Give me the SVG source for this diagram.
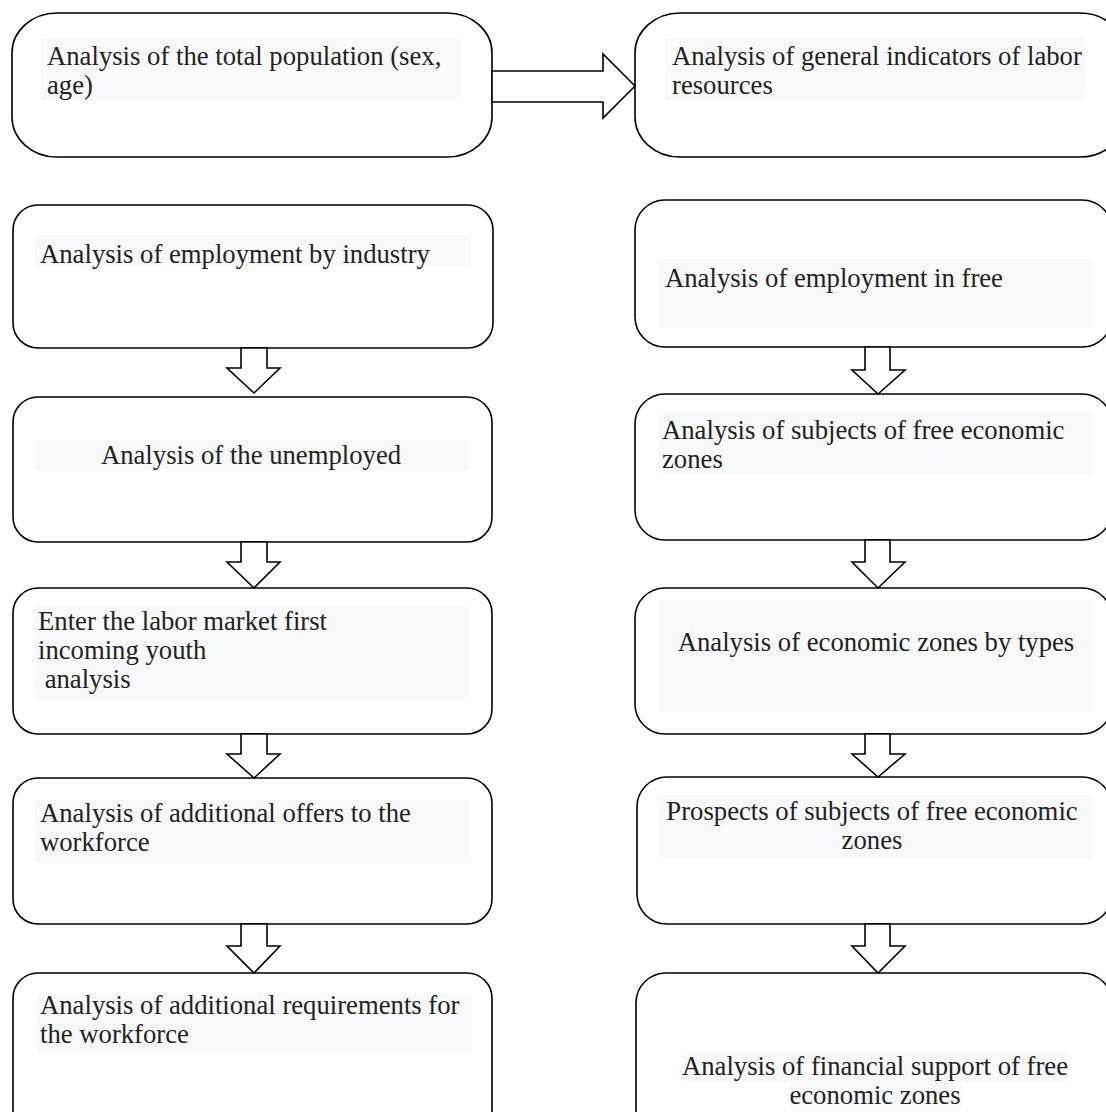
<svg xmlns="http://www.w3.org/2000/svg" width="1106" height="1112" viewBox="0 0 1106 1112">
<style>
.box{fill:#fff;stroke:#000;stroke-width:1.6}
.hl{fill:#f8f9fa}
.t{font-family:"Liberation Serif","Times New Roman",serif;font-size:26.7px;fill:#222}
.c{text-anchor:middle}
.arr{fill:#fff;stroke:#000;stroke-width:1.6;stroke-linejoin:miter}
</style>
<rect width="1106" height="1112" fill="#fff"/>
<g id="n1">
<rect class="box" x="12" y="13" width="480" height="144" rx="45" ry="40"/>
<rect class="hl" x="41" y="38" width="421" height="62"/>
<text class="t" x="47" y="65">Analysis of the total population (sex,</text>
<text class="t" x="47" y="94">age)</text>
</g>
<g id="n2">
<rect class="box" x="635" y="13" width="490" height="144" rx="45" ry="40"/>
<rect class="hl" x="665" y="38" width="420" height="62"/>
<text class="t" x="672" y="65">Analysis of general indicators of labor</text>
<text class="t" x="672" y="94">resources</text>
</g>
<g id="l1">
<rect class="box" x="13" y="205" width="480" height="143" rx="25" ry="25"/>
<rect class="hl" x="35" y="235" width="436" height="32"/>
<text class="t" x="40" y="263">Analysis of employment by industry</text>
</g>
<g id="l2">
<rect class="box" x="13" y="397" width="479" height="145" rx="25" ry="25"/>
<rect class="hl" x="35" y="440" width="434" height="30"/>
<text class="t c" x="251" y="464">Analysis of the unemployed</text>
</g>
<g id="l3">
<rect class="box" x="13" y="588" width="479" height="146" rx="25" ry="25"/>
<rect class="hl" x="35" y="605" width="435" height="95"/>
<text class="t" x="38" y="630">Enter the labor market first</text>
<text class="t" x="38" y="659">incoming youth</text>
<text class="t" x="38" y="688" xml:space="preserve"> analysis</text>
</g>
<g id="l4">
<rect class="box" x="13" y="778" width="479" height="146" rx="25" ry="25"/>
<rect class="hl" x="35" y="800" width="435" height="62"/>
<text class="t" x="40" y="822">Analysis of additional offers to the</text>
<text class="t" x="40" y="851">workforce</text>
</g>
<g id="l5">
<rect class="box" x="13" y="973" width="479" height="170" rx="25" ry="25"/>
<rect class="hl" x="37" y="993" width="435" height="62"/>
<text class="t" x="40" y="1014">Analysis of additional requirements for</text>
<text class="t" x="40" y="1043">the workforce</text>
</g>
<g id="r1">
<rect class="box" x="635" y="200" width="477" height="147" rx="30" ry="30"/>
<rect class="hl" x="658" y="259" width="435" height="69"/>
<text class="t" x="665" y="287">Analysis of employment in free</text>
</g>
<g id="r2">
<rect class="box" x="635" y="394" width="477" height="146" rx="30" ry="30"/>
<rect class="hl" x="658" y="412" width="435" height="63"/>
<text class="t" x="662" y="439">Analysis of subjects of free economic</text>
<text class="t" x="662" y="468">zones</text>
</g>
<g id="r3">
<rect class="box" x="635" y="588" width="477" height="146" rx="30" ry="30"/>
<rect class="hl" x="658" y="600" width="435" height="112"/>
<text class="t c" x="876" y="651">Analysis of economic zones by types</text>
</g>
<g id="r4">
<rect class="box" x="637" y="777" width="475" height="147" rx="30" ry="30"/>
<rect class="hl" x="658" y="795" width="435" height="63"/>
<text class="t c" x="872" y="820">Prospects of subjects of free economic</text>
<text class="t c" x="872" y="849">zones</text>
</g>
<g id="r5">
<rect class="box" x="636" y="973" width="476" height="170" rx="30" ry="30"/>
<rect class="hl" x="682" y="1052" width="386" height="30"/>
<rect class="hl" x="790" y="1082" width="172" height="28"/>
<text class="t c" x="875" y="1075">Analysis of financial support of free</text>
<text class="t c" x="875" y="1104">economic zones</text>
</g>
<g id="connectors">
<polygon class="arr" points="492,71 603,71 603,54 635,86 603,118 603,102 492,102"/>
<polygon class="arr" points="241,348 267,348 267,368 280,368 254,393 227,368 241,368"/>
<polygon class="arr" points="241,542 267,542 267,562 280,562 254,588 227,562 241,562"/>
<polygon class="arr" points="241,734 267,734 267,754 280,754 254,778 227,754 241,754"/>
<polygon class="arr" points="241,924 267,924 267,946 280,946 254,973 227,946 241,946"/>
<polygon class="arr" points="865,347 890,347 890,370 905,370 878,394 852,370 865,370"/>
<polygon class="arr" points="865,540 890,540 890,562 905,562 878,588 852,562 865,562"/>
<polygon class="arr" points="865,734 890,734 890,754 905,754 878,777 852,754 865,754"/>
<polygon class="arr" points="865,924 890,924 890,946 905,946 878,973 852,946 865,946"/>
</g>
</svg>
